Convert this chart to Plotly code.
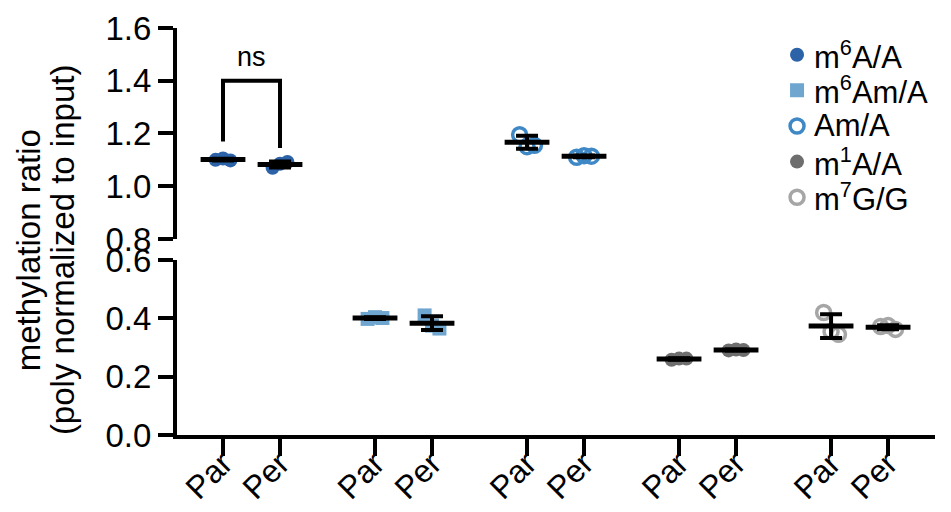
import numpy as np
import plotly.graph_objects as go

# Groups (key labels) and conditions on the x axis
groups = ["m<sup>6</sup>A/A", "m<sup>6</sup>Am/A", "Am/A", "m<sup>1</sup>A/A", "m<sup>7</sup>G/G"]
conditions = ["Par", "Per"]

# Replicate methylation ratios (poly normalized to input)
m6A_par = [1.100, 1.105, 1.098]
m6A_per = [1.070, 1.085, 1.092]
m6Am_par = [0.398, 0.404, 0.401]
m6Am_per = [0.410, 0.375, 0.365]
Am_par = [1.195, 1.150, 1.155]
Am_per = [1.110, 1.116, 1.114]
m1A_par = [0.258, 0.262, 0.262]
m1A_per = [0.290, 0.293, 0.291]
m7G_par = [0.420, 0.355, 0.345]
m7G_per = [0.372, 0.375, 0.362]

values = [
    (m6A_par, m6A_per),
    (m6Am_par, m6Am_per),
    (Am_par, Am_per),
    (m1A_par, m1A_per),
    (m7G_par, m7G_per),
]

# Which panel each group sits in (upper = broken-axis top section)
upper_panel = [True, False, True, False, False]

# Marker styling per group
styles = [
    dict(symbol="circle", color="#2b62a8", open=False),
    dict(symbol="square", color="#6fa6d0", open=False),
    dict(symbol="circle-open", color="#3f88c6", open=True),
    dict(symbol="circle", color="#6e6e6e", open=False),
    dict(symbol="circle-open", color="#a6a6a6", open=True),
]

GROUP_STEP = 8 / 3          # spacing between group starts, in category units
JITTER = [-0.13, 0.0, 0.13]  # horizontal spread of replicate dots


def marker_style(st, size):
    m = dict(symbol=st["symbol"], size=size, color=st["color"])
    m["line"] = dict(width=3.5, color=st["color"]) if st["open"] else dict(width=0)
    return m


fig = go.Figure()
tickvals, ticktext = [], []

for g, (name, (par, per), up, st) in enumerate(zip(groups, values, upper_panel, styles)):
    yax = "y2" if up else "y"
    for c, reps in enumerate((par, per)):
        pos = g * GROUP_STEP + c
        tickvals.append(pos)
        ticktext.append(conditions[c])
        fig.add_trace(go.Scatter(
            x=[pos + j for j in JITTER], y=reps, mode="markers",
            marker=marker_style(st, 14), name=name, showlegend=False,
            yaxis=yax, hoverinfo="skip",
        ))

# Mean and SD bars drawn over the dots
for g, ((par, per), up) in enumerate(zip(values, upper_panel)):
    yax = "y2" if up else "y"
    for c, reps in enumerate((par, per)):
        pos = g * GROUP_STEP + c
        arr = np.array(reps)
        fig.add_trace(go.Scatter(
            x=[pos], y=[arr.mean()], mode="markers",
            marker=dict(symbol="line-ew", size=32, line=dict(width=5, color="black")),
            error_y=dict(type="data", array=[arr.std(ddof=1)], thickness=4, width=11, color="black"),
            showlegend=False, yaxis=yax, hoverinfo="skip",
        ))

# Significance bracket between Par and Per of the first group
bracket_top = 1.40
fig.add_trace(go.Scatter(
    x=[0, 0, 1, 1], y=[1.17, bracket_top, bracket_top, 1.145], mode="lines",
    line=dict(color="black", width=4), yaxis="y2", showlegend=False, hoverinfo="skip",
))
fig.add_annotation(x=0.5, y=bracket_top, xref="x", yref="y2", text="ns", showarrow=False,
                   yanchor="bottom", yshift=7, font=dict(size=27))

# Key in the upper right: one row per group on its own hidden axes
for g, (name, st) in enumerate(zip(groups, styles)):
    fig.add_trace(go.Scatter(
        x=[0.09], y=[g], mode="markers", marker=marker_style(st, 14),
        xaxis="x3", yaxis="y3", showlegend=False, hoverinfo="skip",
    ))
    fig.add_annotation(x=0.19, y=g, xref="x3", yref="y3", text=name, showarrow=False,
                       xanchor="left", yanchor="middle", font=dict(size=31))

axis_common = dict(
    showline=True, linewidth=4, linecolor="black", ticks="outside", ticklen=15,
    tickwidth=4, tickcolor="black", showgrid=False, zeroline=False,
    tickfont=dict(size=33), tickformat=".1f", automargin=False,
)
hidden_axis = dict(visible=False, showgrid=False, zeroline=False, fixedrange=True)

fig.update_layout(
    width=951, height=512,
    margin=dict(l=177, r=16, t=28, b=77),
    plot_bgcolor="white", paper_bgcolor="white",
    font=dict(family="Liberation Sans, Arial, sans-serif", size=28, color="black"),
    showlegend=False,
    xaxis=dict(
        range=[-0.807, 12.49], tickvals=tickvals, ticktext=ticktext, tickangle=-45,
        showline=True, linewidth=4, linecolor="black", ticks="outside", ticklen=17,
        tickwidth=4, tickcolor="black", showgrid=False, zeroline=False,
        tickfont=dict(size=32), anchor="y", automargin=False, ticklabelstandoff=-24,
    ),
    yaxis=dict(domain=[0, 0.43], range=[0, 0.6], tickvals=[0, 0.2, 0.4, 0.6], anchor="x",
               **axis_common),
    yaxis2=dict(domain=[0.4816, 1], range=[0.8, 1.6], tickvals=[0.8, 1.0, 1.2, 1.4, 1.6],
                anchor="x", **axis_common),
    xaxis3=dict(domain=[0.80, 1.0], range=[0, 1], anchor="y3", **hidden_axis),
    yaxis3=dict(domain=[0.5405, 0.978], range=[4.5, -0.5], anchor="x3", **hidden_axis),
)

# Two-line y axis title spanning both panels
fig.add_annotation(text="methylation ratio", xref="paper", yref="paper", x=-0.196, y=0.455,
                   textangle=-90, showarrow=False, xanchor="center", yanchor="middle",
                   font=dict(size=33))
fig.add_annotation(text="(poly normalized to input)", xref="paper", yref="paper", x=-0.150,
                   y=0.455, textangle=-90, showarrow=False, xanchor="center", yanchor="middle",
                   font=dict(size=33))

fig.write_html("out.html")
